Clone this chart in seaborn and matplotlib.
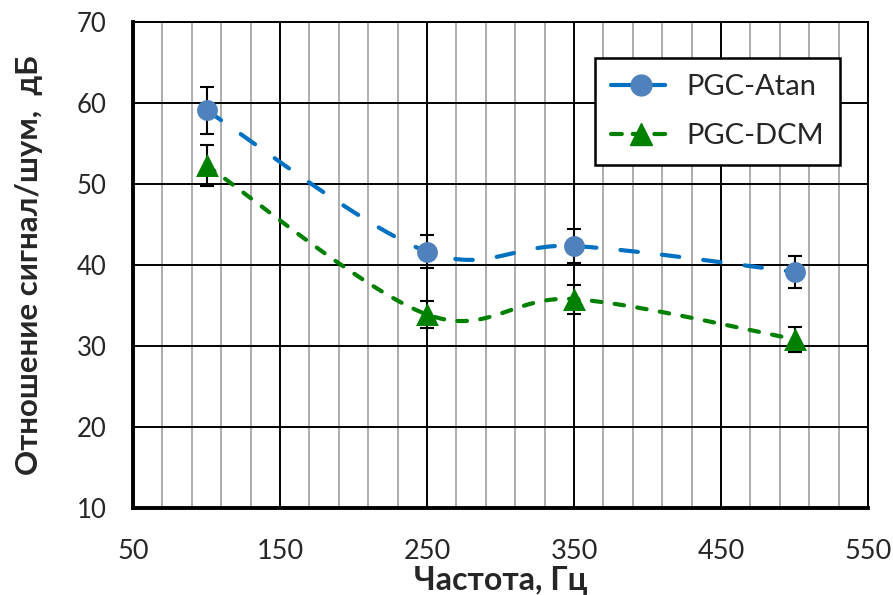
import numpy as np
import pandas as pd
import matplotlib
matplotlib.use("Agg")
import matplotlib.pyplot as plt
from matplotlib import font_manager
from matplotlib.lines import Line2D
from matplotlib.ticker import MultipleLocator
import seaborn as sns

# ---- data ----
freq = [100, 250, 350, 500]
atan_snr = [59.1, 41.65, 42.35, 39.15]
atan_err = [2.9, 2.05, 2.05, 1.95]
dcm_snr = [52.3, 33.9, 35.8, 30.85]
dcm_err = [2.5, 1.7, 1.8, 1.55]
series_names = ["PGC-Atan", "PGC-DCM"]
x_label = "Частота, Гц"
y_label = "Отношение сигнал/шум,  дБ"

sns.set_theme(style="white")


def has_font(name):
    try:
        font_manager.findfont(font_manager.FontProperties(family=name),
                              fallback_to_default=False)
        return True
    except Exception:
        return False


main_font = "Lato" if has_font("Lato") else "DejaVu Sans"
plt.rcParams["font.family"] = [main_font, "DejaVu Sans"]


def smooth(xs, ys, n=60):
    """Catmull-Rom style Bezier smoothing like Excel's smoothed line."""
    P = np.column_stack([xs, ys]).astype(float)
    Pext = np.vstack([P[0], P, P[-1]])
    out = []
    t = np.linspace(0, 1, n)[:, None]
    for i in range(len(P) - 1):
        p0, p1, p2, p3 = Pext[i], Pext[i + 1], Pext[i + 2], Pext[i + 3]
        b1 = p1 + (p2 - p0) / 6.0
        b2 = p2 - (p3 - p1) / 6.0
        seg = ((1 - t) ** 3) * p1 + 3 * ((1 - t) ** 2) * t * b1 + 3 * (1 - t) * t ** 2 * b2 + t ** 3 * p2
        out.append(seg if i == 0 else seg[1:])
    s = np.vstack(out)
    return s[:, 0], s[:, 1]


fig = plt.figure(figsize=(8.93, 5.95), dpi=100)
ax = fig.add_axes([0.149, 0.146, 0.823, 0.817])

blue_line = "#0070C0"
blue_marker = "#4F81BD"
green = "#008000"

xa, ya = smooth(freq, atan_snr)
xd, yd = smooth(freq, dcm_snr)
df_a = pd.DataFrame({"x": xa, "y": ya})
df_d = pd.DataFrame({"x": xd, "y": yd})

sns.lineplot(data=df_a, x="x", y="y", ax=ax, sort=False, color=blue_line,
             linewidth=3.0, zorder=3)
ax.lines[-1].set_dashes((4.2, 5.8))
ax.lines[-1].set_dash_capstyle("round")
sns.lineplot(data=df_d, x="x", y="y", ax=ax, sort=False, color=green,
             linewidth=3.0, zorder=3)
ax.lines[-1].set_dashes((2.3, 3.2))
ax.lines[-1].set_dash_capstyle("round")

ax.errorbar(freq, atan_snr, yerr=atan_err, fmt="none", ecolor="black",
            elinewidth=1.5, capsize=5, capthick=1.5, zorder=4)
ax.errorbar(freq, dcm_snr, yerr=dcm_err, fmt="none", ecolor="black",
            elinewidth=1.5, capsize=5, capthick=1.5, zorder=4)

sns.scatterplot(x=freq, y=atan_snr, ax=ax, marker="o", s=15 ** 2, color=blue_marker,
                edgecolor=blue_marker, linewidth=0, zorder=5)
sns.scatterplot(x=freq, y=dcm_snr, ax=ax, marker="^", s=16.5 ** 2, color=green,
                edgecolor=green, linewidth=0, zorder=5)

ax.set_xlim(50, 550)
ax.set_ylim(10, 70)
ax.xaxis.set_major_locator(MultipleLocator(100, offset=50))
ax.xaxis.set_minor_locator(MultipleLocator(20, offset=10))
ax.yaxis.set_major_locator(MultipleLocator(10))
ax.yaxis.set_minor_locator(MultipleLocator(2))

ax.grid(False)
ax.grid(which="major", axis="both", color="black", linewidth=1.4, zorder=1)
ax.grid(which="minor", axis="x", color="#A6A6A6", linewidth=1.3, zorder=0)
ax.set_axisbelow(True)

for side in ["left", "bottom"]:
    ax.spines[side].set_linewidth(2.8)
    ax.spines[side].set_color("black")
for side in ["top", "right"]:
    ax.spines[side].set_linewidth(1.4)
    ax.spines[side].set_color("black")

ax.tick_params(axis="both", which="major", direction="inout", length=14, width=2.2,
               color="black")
ax.tick_params(axis="both", which="minor", direction="in", length=6, width=2.2,
               color="black")
ax.tick_params(axis="y", which="major", labelsize=18.5, pad=12)
ax.tick_params(axis="x", which="major", labelsize=19.5, pad=15)

ax.set_xlabel(x_label, fontsize=23, fontweight="bold", labelpad=2)
ax.set_ylabel(y_label, fontsize=22.5, fontweight="bold", labelpad=24)

handles = [
    Line2D([0], [0], color=blue_line, linewidth=3.0, dashes=(5.5, 2.0), dash_capstyle="round",
           marker="o", markersize=15, markerfacecolor=blue_marker, markeredgecolor=blue_marker),
    Line2D([0], [0], color=green, linewidth=3.0, dashes=(2.6, 2.6), dash_capstyle="round",
           marker="^", markersize=16, markerfacecolor=green, markeredgecolor=green),
]
leg = ax.legend(handles, series_names, loc="upper right", bbox_to_anchor=(0.962, 0.926),
                borderaxespad=0, fontsize=21, frameon=True, fancybox=False,
                edgecolor="black", framealpha=1, handlelength=2.1, handletextpad=0.5,
                labelspacing=0.8, borderpad=0.55)
leg.get_frame().set_linewidth(1.8)
leg.set_zorder(10)

fig.savefig("out.png", dpi=100)
